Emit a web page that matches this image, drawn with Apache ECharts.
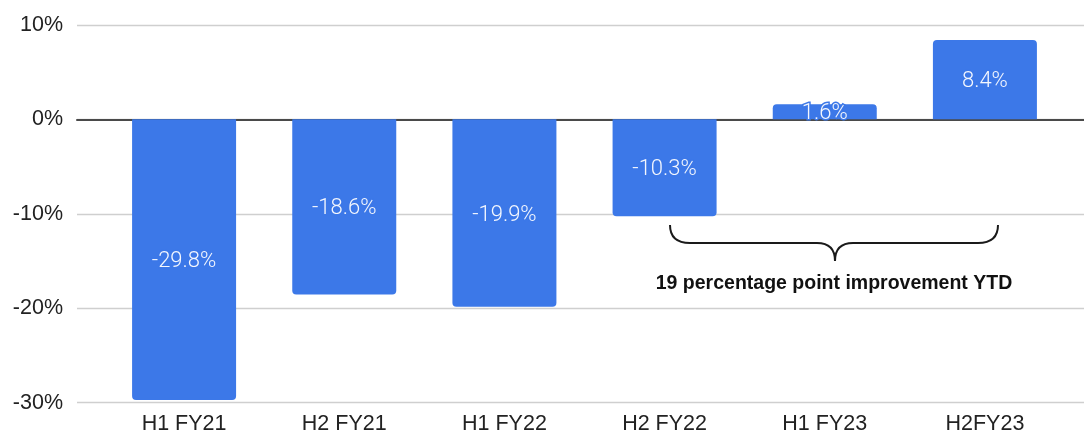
<!DOCTYPE html>
<html>
<head>
<meta charset="utf-8">
<script src="https://cdn.jsdelivr.net/npm/echarts@6/dist/echarts.min.js"></script>
<style>
html,body{margin:0;padding:0;background:#fff;}
#c{width:1084px;height:435px;}
</style>
</head>
<body>
<div id="c"></div>
<script>
const categories = ['H1 FY21', 'H2 FY21', 'H1 FY22', 'H2 FY22', 'H1 FY23', 'H2FY23'];
const values = [-29.8, -18.6, -19.9, -10.3, 1.6, 8.4];
const yTicks = [-30, -20, -10, 0, 10];
const annotationText = '19 percentage point improvement YTD';

const BLUE = '#3c78e8';
const FONT = '"Liberation Sans", Arial, sans-serif';

const chart = echarts.init(document.getElementById('c'), null, {renderer: 'canvas'});
const yMin = Math.min(...yTicks), yMax = Math.max(...yTicks);

const braceStyle = {fill: null, stroke: '#1a1a1a', lineWidth: 2};
function curve(x1, y1, cx, cy, x2, y2) {
  return {type: 'bezierCurve', z: 10, shape: {x1, y1, cpx1: cx, cpy1: cy, x2, y2}, style: braceStyle};
}
function seg(x1, y1, x2, y2) {
  return {type: 'line', z: 10, shape: {x1, y1, x2, y2}, style: braceStyle};
}

const option = {
  animation: false,
  backgroundColor: '#fff',
  grid: [
    {left: 77, right: 0, top: 25, bottom: 32.3, containLabel: false},
    {left: 104, right: 19, top: 25, bottom: 32.3, containLabel: false}
  ],
  xAxis: [
    {gridIndex: 0, type: 'value', min: 0, max: 1, show: true,
     axisLine: {show: true, onZero: true, lineStyle: {color: '#4a4a4a', width: 2}},
     axisTick: {show: false}, axisLabel: {show: false}, splitLine: {show: false}},
    {gridIndex: 1, type: 'category', data: categories, boundaryGap: true,
     axisLine: {show: false}, axisTick: {show: false}, splitLine: {show: false},
     axisLabel: {color: '#222', fontFamily: FONT, fontSize: 21.5, margin: 11}}
  ],
  yAxis: [
    {gridIndex: 0, type: 'value', min: yMin, max: yMax, interval: 10,
     axisLine: {show: false}, axisTick: {show: false},
     splitLine: {show: true, lineStyle: {color: '#cfcfcf', width: 1.3}},
     axisLabel: {color: '#222', fontFamily: FONT, fontSize: 21.5, margin: 14, formatter: '{value}%'}},
    {gridIndex: 1, type: 'value', min: yMin, max: yMax, interval: 10, show: false,
     splitLine: {show: false}}
  ],
  series: [
    {
      type: 'bar', xAxisIndex: 1, yAxisIndex: 1, barWidth: 104, z: 3,
      data: values.map(v => ({
        value: v,
        itemStyle: {color: BLUE, borderRadius: v >= 0 ? [4, 4, 0, 0] : [0, 0, 4, 4]}
      })),
      label: {
        show: true, position: 'inside', offset: [0, 2], color: '#f4f7fe',
        fontFamily: 'Roboto, sans-serif', fontWeight: 300,
        fontSize: 22, textBorderColor: BLUE, textBorderWidth: 3,
        formatter: p => p.value.toFixed(1) + '%'
      }
    }
  ],
  graphic: [
    curve(670, 225, 670, 243, 690, 243),
    seg(690, 243, 817, 243),
    curve(817, 243, 835, 243, 835, 261),
    curve(835, 261, 835, 243, 853, 243),
    seg(853, 243, 978, 243),
    curve(978, 243, 998, 243, 998, 225),
    {type: 'text', z: 10, x: 834, y: 284,
     style: {text: annotationText, fill: '#111', font: 'bold 19.5px "Liberation Sans", Arial, sans-serif',
             align: 'center', verticalAlign: 'middle'}}
  ]
};
chart.setOption(option);
</script>
</body>
</html>
